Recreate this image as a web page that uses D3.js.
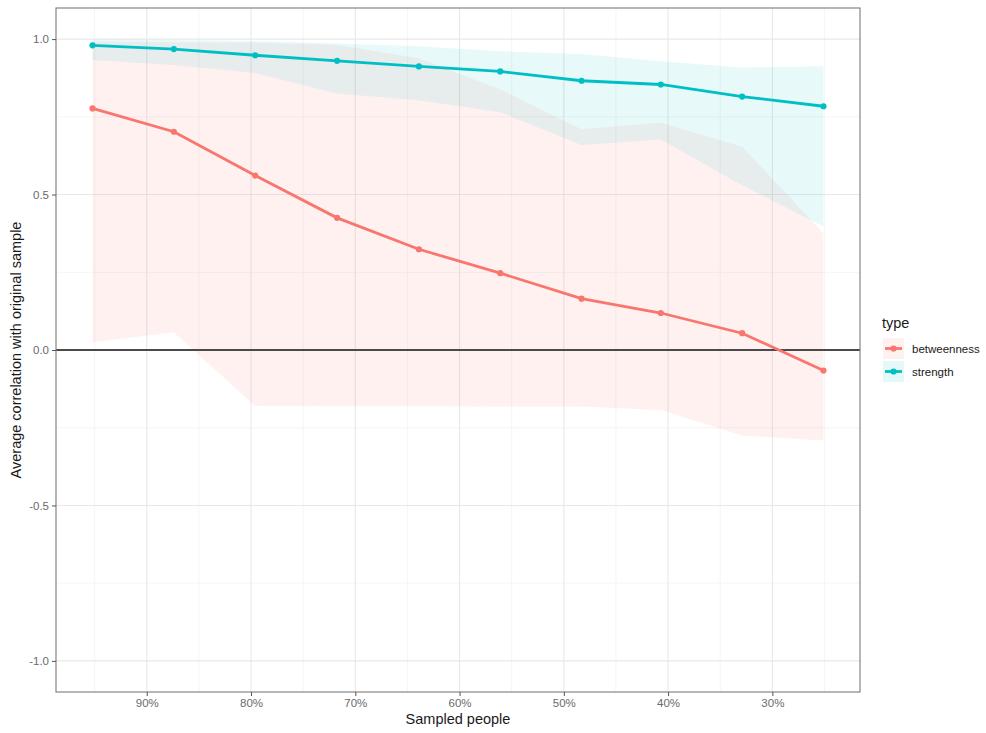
<!DOCTYPE html>
<html>
<head>
<meta charset="utf-8">
<script src="https://cdn.jsdelivr.net/npm/d3@7"></script>
<style>
  body { margin: 0; background: #fff; }
  svg { font-family: "Liberation Sans", Arial, sans-serif; }
</style>
</head>
<body>
<svg width="986" height="733"></svg>
<script>
// sampled share of people (percent), reversed axis
const sampled = [95.2, 87.4, 79.6, 71.75, 63.9, 56.1, 48.3, 40.7, 32.9, 25.1];

const betweenMean  = [0.777, 0.702, 0.561, 0.425, 0.324, 0.247, 0.165, 0.119, 0.054, -0.066];
const betweenUpper = [0.992, 0.990, 0.988, 0.981, 0.938, 0.838, 0.710, 0.731, 0.654, 0.375];
const betweenLower = [0.025, 0.057, -0.180, -0.181, -0.181, -0.182, -0.182, -0.193, -0.275, -0.291];

const strengthMean  = [0.980, 0.968, 0.948, 0.930, 0.912, 0.896, 0.866, 0.854, 0.815, 0.784];
const strengthUpper = [0.999, 0.997, 0.994, 0.986, 0.977, 0.961, 0.952, 0.929, 0.909, 0.913];
const strengthLower = [0.933, 0.917, 0.891, 0.825, 0.803, 0.765, 0.659, 0.677, 0.530, 0.397];

const types = ["betweenness", "strength"];
const colours = ["#F8766D", "#00BFC4"];
const xTicks = [90, 80, 70, 60, 50, 40, 30];
const xMinor = [95, 85, 75, 65, 55, 45, 35, 25];
const yTicks = [-1, -0.5, 0, 0.5, 1];
const yMinor = [-0.75, -0.25, 0.25, 0.75];

const series = [
  { type: types[0], mean: betweenMean, lo: betweenLower, hi: betweenUpper },
  { type: types[1], mean: strengthMean, lo: strengthLower, hi: strengthUpper }
];

const svg = d3.select("svg");
const panel = { left: 56, right: 860, top: 8, bottom: 692 };

// ggplot style 5% expansion on x
const xr = d3.extent(sampled);
const pad = (xr[1] - xr[0]) * 0.05;
const x = d3.scaleLinear().domain([xr[1] + pad, xr[0] - pad]).range([panel.left, panel.right]);
const y = d3.scaleLinear().domain([-1.1, 1.1]).range([panel.bottom, panel.top]);
const colour = d3.scaleOrdinal().domain(types).range(colours);

// grid
const grid = svg.append("g");
grid.selectAll(".xminor").data(xMinor).join("line")
  .attr("x1", d => x(d)).attr("x2", d => x(d))
  .attr("y1", panel.top).attr("y2", panel.bottom)
  .attr("stroke", "#f3f3f3").attr("stroke-width", 0.8);
grid.selectAll(".yminor").data(yMinor).join("line")
  .attr("y1", d => y(d)).attr("y2", d => y(d))
  .attr("x1", panel.left).attr("x2", panel.right)
  .attr("stroke", "#f3f3f3").attr("stroke-width", 0.8);
grid.selectAll(".xmajor").data(xTicks).join("line")
  .attr("x1", d => x(d)).attr("x2", d => x(d))
  .attr("y1", panel.top).attr("y2", panel.bottom)
  .attr("stroke", "#e8e8e8").attr("stroke-width", 1.1);
grid.selectAll(".ymajor").data(yTicks).join("line")
  .attr("y1", d => y(d)).attr("y2", d => y(d))
  .attr("x1", panel.left).attr("x2", panel.right)
  .attr("stroke", "#e8e8e8").attr("stroke-width", 1.1);

// ribbons
const area = d3.area()
  .x((d, i) => x(sampled[i]))
  .y0(d => y(d[0]))
  .y1(d => y(d[1]));

svg.append("g").selectAll("path").data(series).join("path")
  .attr("d", s => area(s.lo.map((v, i) => [v, s.hi[i]])))
  .attr("fill", s => colour(s.type))
  .attr("fill-opacity", (s, i) => i ? 0.09 : 0.1);

// zero line
svg.append("line")
  .attr("x1", panel.left).attr("x2", panel.right)
  .attr("y1", y(0)).attr("y2", y(0))
  .attr("stroke", "#4a4a4a").attr("stroke-width", 1.8);

// lines and points
const line = d3.line().x((d, i) => x(sampled[i])).y(d => y(d));
svg.append("g").selectAll("path").data(series).join("path")
  .attr("d", s => line(s.mean))
  .attr("fill", "none")
  .attr("stroke", s => colour(s.type))
  .attr("stroke-width", 2.8);

series.forEach(s => {
  svg.append("g").selectAll("circle").data(s.mean).join("circle")
    .attr("cx", (d, i) => x(sampled[i]))
    .attr("cy", d => y(d))
    .attr("r", 3.1)
    .attr("fill", colour(s.type));
});

// panel border
svg.append("rect")
  .attr("x", panel.left).attr("y", panel.top)
  .attr("width", panel.right - panel.left).attr("height", panel.bottom - panel.top)
  .attr("fill", "none").attr("stroke", "#7a7a7a").attr("stroke-width", 1.1);

// axes
const xAxis = svg.append("g")
  .attr("transform", `translate(0,${panel.bottom})`)
  .call(d3.axisBottom(x).tickValues(xTicks).tickFormat(d => d + "%").tickSize(4).tickPadding(3));
const yAxis = svg.append("g")
  .attr("transform", `translate(${panel.left},0)`)
  .call(d3.axisLeft(y).tickValues(yTicks).tickFormat(d => d.toFixed(1)).tickSize(4).tickPadding(3));
[xAxis, yAxis].forEach(a => {
  a.select(".domain").remove();
  a.selectAll(".tick line").attr("stroke", "#555");
  a.selectAll(".tick text").attr("fill", "#6b6b6b").style("font-size", "11.5px");
});

svg.append("text")
  .attr("x", (panel.left + panel.right) / 2).attr("y", 724)
  .attr("text-anchor", "middle").attr("fill", "#1a1a1a")
  .style("font-size", "14.5px").text("Sampled people");
svg.append("text")
  .attr("transform", `translate(21,${(panel.top + panel.bottom) / 2}) rotate(-90)`)
  .attr("text-anchor", "middle").attr("fill", "#1a1a1a")
  .style("font-size", "14.5px").text("Average correlation with original sample");

// legend
const legend = svg.append("g").attr("transform", "translate(882,0)");
legend.append("text").attr("x", 0).attr("y", 328)
  .attr("fill", "#1a1a1a").style("font-size", "14.5px").text("type");
const keys = legend.selectAll("g.key").data(types).join("g")
  .attr("transform", (d, i) => `translate(0,${338 + i * 23})`);
keys.append("rect").attr("x", 1).attr("y", 0).attr("width", 21).attr("height", 21)
  .attr("fill", d => colour(d)).attr("fill-opacity", 0.1);
keys.append("line").attr("x1", 3).attr("x2", 20).attr("y1", 10.5).attr("y2", 10.5)
  .attr("stroke", d => colour(d)).attr("stroke-width", 2.8);
keys.append("circle").attr("cx", 11.5).attr("cy", 10.5).attr("r", 3.1)
  .attr("fill", d => colour(d));
keys.append("text").attr("x", 30).attr("y", 14.5)
  .attr("fill", "#1a1a1a").style("font-size", "11.5px").text(d => d);
</script>
</body>
</html>
